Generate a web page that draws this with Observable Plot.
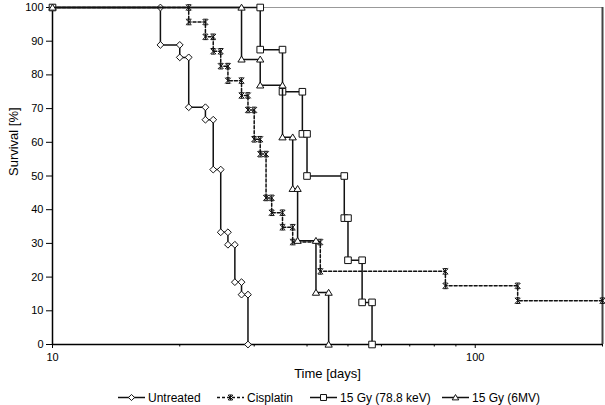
<!DOCTYPE html>
<html><head><meta charset="utf-8">
<script src="https://cdn.jsdelivr.net/npm/d3@7"></script>
<script src="https://cdn.jsdelivr.net/npm/@observablehq/plot@0.6"></script>
<style>
body{margin:0;background:#fff;font-family:"Liberation Sans",Arial,sans-serif;}
#chart{width:605px;height:405px;position:relative;overflow:hidden;background:#fff}
#chart svg{display:block}
</style></head><body><div id="chart"></div>
<script>
// ---- data ----
const seriesNames = ["Untreated", "Cisplatin", "15 Gy (78.8 keV)", "15 Gy (6MV)"];
const startDay = 10;
const startSurv = 100;
const untreatedDays = [18, 20, 21, 23, 24, 25, 26, 27, 28, 29];
const untreatedSurv = [88.9, 85.2, 70.4, 66.7, 51.9, 33.3, 29.6, 18.5, 14.8, 0];
const cisplatinDays = [21, 23, 24, 25, 26, 28, 29, 30, 31, 32, 33, 35, 37, 43, 85, 126];
const cisplatinSurv = [95.7, 91.3, 87.0, 82.6, 78.3, 73.9, 69.6, 60.9, 56.5, 43.5, 39.1, 34.8, 30.4, 21.7, 17.4, 13.0];
const cisplatinLastDay = 200;
const kevDays = [31, 35, 39, 40, 49, 50, 54, 57];
const kevSurv = [87.5, 75, 62.5, 50, 37.5, 25, 12.5, 0];
const mvDays = [28, 31, 35, 37, 38, 42, 45];
const mvSurv = [84.6, 76.9, 61.5, 46.2, 30.8, 15.4, 0];
const yTicks = [0, 10, 20, 30, 40, 50, 60, 70, 80, 90, 100];
const xMajorTicks = [10, 100];
const xMinorTicks = [20, 30, 40, 50, 60, 70, 80, 90, 200];
const xDomain = [10, 200];

// ---- step vertices (Kaplan-Meier corners) ----
function steps(name, days, surv, lastDay) {
  const pts = [{series: name, day: startDay, surv: startSurv}];
  let prev = startSurv;
  days.forEach((d, i) => {
    pts.push({series: name, day: d, surv: prev});
    pts.push({series: name, day: d, surv: surv[i]});
    prev = surv[i];
  });
  if (lastDay != null) pts.push({series: name, day: lastDay, surv: prev});
  return pts;
}
const sUntreated = steps(seriesNames[0], untreatedDays, untreatedSurv);
const sCisplatin = steps(seriesNames[1], cisplatinDays, cisplatinSurv, cisplatinLastDay);
const sKev = steps(seriesNames[2], kevDays, kevSurv);
const sMv = steps(seriesNames[3], mvDays, mvSurv);

// ---- marker shapes ----
const rad = s => Math.sqrt(s / Math.PI);
const symDiamond = {draw(c, s) { const r = rad(s); c.moveTo(0, -r); c.lineTo(r, 0); c.lineTo(0, r); c.lineTo(-r, 0); c.closePath(); }};
const symSquare = {draw(c, s) { const r = rad(s); c.rect(-r, -r, 2 * r, 2 * r); }};
const symTriangle = {draw(c, s) { const r = rad(s); c.moveTo(0, -r); c.lineTo(r * 1.1, r * 0.8); c.lineTo(-r * 1.1, r * 0.8); c.closePath(); }};
const symStar = {draw(c, s) { const r = rad(s); c.moveTo(-r, -r); c.lineTo(r, r); c.moveTo(r, -r); c.lineTo(-r, r); c.moveTo(0, -r); c.lineTo(0, r); c.moveTo(-r*0.8, -r); c.lineTo(r*0.8, -r); c.moveTo(-r*0.8, r); c.lineTo(r*0.8, r); }};

const styles = [
  {data: sUntreated, sym: symDiamond, r: 3.4, dash: null, fill: "#fff", sw: 1},
  {data: sCisplatin, sym: symStar, r: 2.8, dash: "3,2", fill: "none", sw: 1},
  {data: sKev, sym: symSquare, r: 3.3, dash: null, fill: "#fff", sw: 1},
  {data: sMv, sym: symTriangle, r: 3.3, dash: null, fill: "#fff", sw: 1}
];

const seriesMarks = [];
for (const st of styles) {
  seriesMarks.push(Plot.line(st.data, {x: "day", y: "surv", stroke: "#111", strokeWidth: 1.5, strokeDasharray: st.dash}));
  seriesMarks.push(Plot.dot(st.data, {x: "day", y: "surv", symbol: st.sym, r: st.r, fill: st.fill, stroke: "#111", strokeWidth: st.sw}));
}

const plot = Plot.plot({
  width: 605, height: 390,
  marginLeft: 52, marginRight: 3, marginTop: 7, marginBottom: 46,
  style: {fontFamily: "'Liberation Sans', Arial, sans-serif", fontSize: "11px", color: "#000", background: "#fff"},
  x: {type: "log", domain: xDomain},
  y: {domain: [0, 100]},
  marks: [
    Plot.ruleY([100], {stroke: "#999", strokeWidth: 1}),
    Plot.ruleX([200], {stroke: "#444", strokeWidth: 2}),
    Plot.axisY({ticks: yTicks, tickSize: 6, tickPadding: 3, label: null, stroke: "#000"}),
    Plot.axisX({ticks: xMajorTicks, tickSize: 4, tickPadding: 5, label: null, tickFormat: d => String(d), stroke: "#000"}),
    Plot.axisX({ticks: xMinorTicks, tickSize: 2.5, tickFormat: () => "", label: null, stroke: "#000"}),
    Plot.ruleX([10], {stroke: "#000", strokeWidth: 1.5}),
    Plot.ruleY([0], {stroke: "#000", strokeWidth: 1.5}),
    ...seriesMarks,
    Plot.text(["Time [days]"], {text: d => d, frameAnchor: "bottom", dy: 33, fontSize: 13, fill: "#000"}),
    Plot.text(["Survival [%]"], {text: d => d, frameAnchor: "left", dx: -39, rotate: -90, fontSize: 13, fill: "#000"})
  ]
});
document.getElementById("chart").appendChild(plot);

// ---- legend below the chart ----
const legendX = [118, 217, 310, 442];
const leg = d3.create("svg").attr("width", 605).attr("height", 15)
  .style("font-family", "'Liberation Sans', Arial, sans-serif").style("font-size", "12px");
styles.forEach((st, i) => {
  const x0 = legendX[i];
  const g = leg.append("g");
  g.append("line").attr("x1", x0).attr("x2", x0 + 27).attr("y1", 7.5).attr("y2", 7.5)
    .attr("stroke", "#111").attr("stroke-width", 1.5).attr("stroke-dasharray", st.dash);
  g.append("path").attr("transform", `translate(${x0 + 13.5},7.5)`)
    .attr("d", d3.symbol(st.sym, Math.PI * (st.r * 0.9) ** 2)())
    .attr("fill", st.fill).attr("stroke", "#111").attr("stroke-width", st.sw);
  g.append("text").attr("x", x0 + 30).attr("y", 12).attr("fill", "#000").text(seriesNames[i]);
});
document.getElementById("chart").appendChild(leg.node());
</script></body></html>
